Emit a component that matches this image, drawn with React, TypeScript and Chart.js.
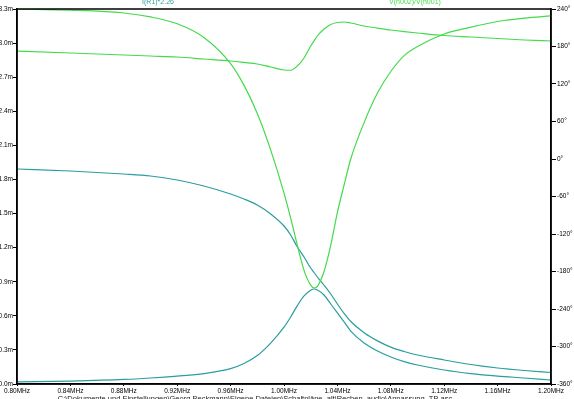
import { useEffect, useRef } from 'react';
import { Chart, registerables } from 'chart.js';

Chart.register(...registerables);

// Frequencies in MHz
const freq = [0.80, 0.84, 0.88, 0.90, 0.92, 0.94, 0.96, 0.97, 0.98, 0.99, 1.00, 1.005, 1.01, 1.015, 1.02, 1.0225, 1.025, 1.03, 1.035, 1.04, 1.045, 1.05, 1.06, 1.07, 1.08, 1.09, 1.10, 1.12, 1.14, 1.16, 1.18, 1.20];

// Green trace magnitude (left axis, m)
const greenMag = [3.30, 3.29, 3.265, 3.23, 3.17, 3.05, 2.82, 2.63, 2.38, 2.06, 1.68, 1.46, 1.22, 1.00, 0.87, 0.845, 0.86, 0.99, 1.22, 1.51, 1.75, 1.98, 2.30, 2.56, 2.75, 2.89, 2.97, 3.08, 3.14, 3.19, 3.22, 3.24];
// Green trace phase (right axis, degrees)
const greenPhase = [172.8, 169.6, 166.4, 164.8, 163.2, 160, 156.8, 154.5, 152, 147.2, 142.4, 142, 148.8, 161.6, 180.8, 189, 196.8, 208, 215.2, 218.4, 219.2, 217.6, 212.8, 209.5, 206.4, 203.8, 201.6, 197.6, 195.2, 192.8, 190.4, 188.8];
// Teal trace magnitude (left axis, m)
const tealMag = [0.018, 0.026, 0.04, 0.053, 0.07, 0.092, 0.135, 0.18, 0.25, 0.36, 0.50, 0.59, 0.69, 0.775, 0.825, 0.836, 0.827, 0.783, 0.704, 0.625, 0.546, 0.466, 0.361, 0.29, 0.238, 0.197, 0.167, 0.123, 0.092, 0.07, 0.053, 0.035];
// Teal trace phase (right axis, degrees)
const tealPhase = [-16, -19.2, -24, -27.2, -33.6, -43.2, -56, -64, -73.6, -88, -107.2, -121.6, -140.8, -156.8, -174.4, -181.6, -188.8, -202, -216, -232, -247, -260, -278, -291, -301, -308, -313.6, -321.6, -328.8, -334.4, -338.4, -341.6];

const xTicks = [0.80, 0.84, 0.88, 0.92, 0.96, 1.00, 1.04, 1.08, 1.12, 1.16, 1.20];
const leftTicks = [0, 0.3, 0.6, 0.9, 1.2, 1.5, 1.8, 2.1, 2.4, 2.7, 3.0, 3.3];
const rightTicks = [-360, -300, -240, -180, -120, -60, 0, 60, 120, 180, 240];

const tealLabel = 'I(R1)*2.26';
const greenLabel = 'V(n002)/V(n001)';
const filePath = 'C:\\Dokumente und Einstellungen\\Georg Beckmann\\Eigene Dateien\\Schaltpläne_alt\\Rechen_audio\\Anpassung_TB.asc';

const GREEN = '#44da4c';
const TEAL = '#2a9d9d';
const FONT = '"Liberation Sans", Arial, sans-serif';

const pts = (ys: number[]) => freq.map((f, i) => ({ x: f, y: ys[i] }));

const overlay = {
  id: 'overlay',
  afterDraw(chart: any) {
    const { ctx, chartArea } = chart;
    ctx.save();
    ctx.strokeStyle = '#000';
    ctx.lineWidth = 1.5;
    ctx.strokeRect(chartArea.left, chartArea.top, chartArea.right - chartArea.left, chartArea.bottom - chartArea.top);
    ctx.font = `7px ${FONT}`;
    ctx.textBaseline = 'alphabetic';
    ctx.textAlign = 'center';
    ctx.fillStyle = TEAL;
    ctx.fillText(tealLabel, 158, 4);
    ctx.fillStyle = GREEN;
    ctx.fillText(greenLabel, 415, 4);
    ctx.fillStyle = '#1a1a1a';
    ctx.font = `7.5px ${FONT}`;
    ctx.fillText(filePath, 255, 401);
    ctx.restore();
  },
};

export default function App() {
  const ref = useRef<HTMLCanvasElement>(null);
  useEffect(() => {
    if (!ref.current) return;
    const ds = (label: string, data: number[], color: string, axis: string) => ({
      label,
      data: pts(data),
      borderColor: color,
      backgroundColor: color,
      borderWidth: 1.2,
      pointRadius: 0,
      fill: false,
      cubicInterpolationMode: 'monotone' as const,
      yAxisID: axis,
    });
    const tickFont = { family: FONT, size: 6.5 };
    const chart = new Chart(ref.current, {
      type: 'line',
      data: {
        datasets: [
          ds('greenMag', greenMag, GREEN, 'y'),
          ds('greenPhase', greenPhase, GREEN, 'y2'),
          ds('tealPhase', tealPhase, TEAL, 'y2'),
          ds('tealMag', tealMag, TEAL, 'y'),
        ],
      },
      options: {
        animation: false,
        responsive: false,
        maintainAspectRatio: false,
        layout: { padding: { top: 9, left: 0, right: 0, bottom: 0 } },
        plugins: { legend: { display: false }, tooltip: { enabled: false }, title: { display: false } },
        scales: {
          x: {
            type: 'linear',
            min: 0.8,
            max: 1.2,
            afterBuildTicks: (s: any) => { s.ticks = xTicks.map((v) => ({ value: v })); },
            afterFit: (s: any) => { s.height = 15; },
            ticks: {
              autoSkip: false,
              maxRotation: 0,
              padding: 1,
              color: '#000',
              font: tickFont,
              callback: (v: any) => Number(v).toFixed(2) + 'MHz',
            },
            grid: { drawOnChartArea: false, drawTicks: true, tickLength: 2, color: '#000' },
            border: { display: true, color: '#000', width: 1.5 },
          },
          y: {
            type: 'linear',
            position: 'left',
            min: 0,
            max: 3.3,
            afterBuildTicks: (s: any) => { s.ticks = leftTicks.map((v) => ({ value: v })); },
            afterFit: (s: any) => { s.width = 17; },
            ticks: {
              autoSkip: false,
              padding: 0,
              color: '#000',
              font: tickFont,
              callback: (v: any) => Number(v).toFixed(1) + 'm',
            },
            grid: { drawOnChartArea: false, drawTicks: true, tickLength: 4, color: '#000' },
            border: { display: true, color: '#000', width: 1.5 },
          },
          y2: {
            type: 'linear',
            position: 'right',
            min: -360,
            max: 240,
            afterBuildTicks: (s: any) => { s.ticks = rightTicks.map((v) => ({ value: v })); },
            afterFit: (s: any) => { s.width = 23; },
            ticks: {
              autoSkip: false,
              padding: 1,
              color: '#000',
              font: tickFont,
              callback: (v: any) => String(v) + '°',
            },
            grid: { drawOnChartArea: false, drawTicks: true, tickLength: 5, color: '#000' },
            border: { display: true, color: '#000', width: 1.5 },
          },
        },
      },
      plugins: [overlay],
    });
    return () => chart.destroy();
  }, []);
  return (
    <div style={{ position: 'absolute', left: 0, top: 0, width: 574, height: 399, background: '#fff', overflow: 'hidden' }}>
      <canvas ref={ref} width={574} height={399} style={{ width: 574, height: 399, display: 'block' }} />
    </div>
  );
}
